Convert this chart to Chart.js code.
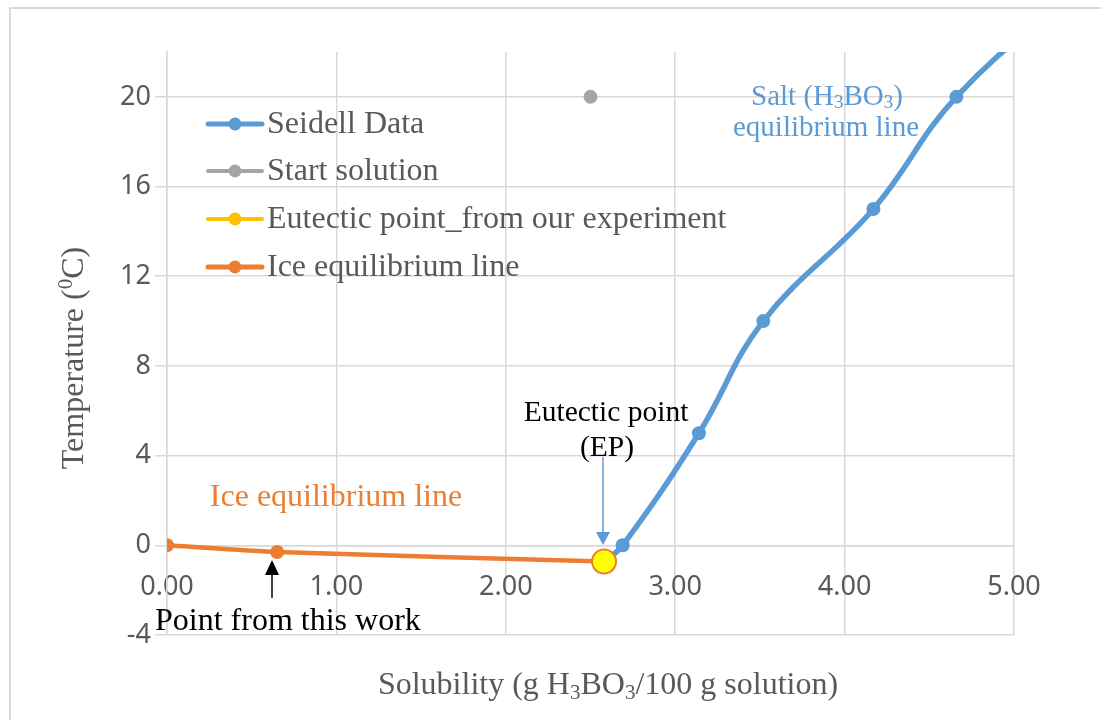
<!DOCTYPE html>
<html>
<head>
<meta charset="utf-8">
<script src="https://cdn.jsdelivr.net/npm/chart.js@4"></script>
<style>
  html, body { margin: 0; padding: 0; background: #fff; }
  #wrap { width: 1101px; height: 720px; position: relative; }
</style>
</head>
<body>
<div id="wrap"><canvas id="chart" width="1101" height="720"></canvas></div>
<script>
// 数据 (g H3BO3/100 g solution, °C)
const seidellX = [2.58, 2.69, 3.14, 3.52, 4.17, 4.66, 5.40];
const seidellY = [-0.72, 0, 5, 10, 15, 20, 25];
const startX = [2.50];
const startY = [20];
const eutecticX = [2.58];
const eutecticY = [-0.72];
const iceX = [0.00, 0.65, 2.58];
const iceY = [0.00, -0.30, -0.72];

const xTicks = [0, 1, 2, 3, 4, 5];
const yTicks = [-4, 0, 4, 8, 12, 16, 20];

const seriesNames = ['Seidell Data', 'Start solution', 'Eutectic point_from our experiment', 'Ice equilibrium line'];

const BLUE = '#5B9BD5';
const GRAY = '#A5A5A5';
const GOLD = '#FFC000';
const ORANGE = '#ED7D31';
const TEXT_GRAY = '#595959';
const GRID = '#d9d9d9';
const SERIF = '"Liberation Serif", "Times New Roman", serif';
const SANS = '"Noto Sans", "Open Sans", sans-serif';

function toPoints(xs, ys) {
    return xs.map((x, i) => ({ x: x, y: ys[i] }));
}

// 带上下标的文字
function drawRich(ctx, parts, x, y, size, color, align) {
    ctx.save();
    ctx.fillStyle = color;
    ctx.textBaseline = 'middle';
    ctx.textAlign = 'left';
    const small = Math.round(size * 0.65);
    let total = 0;
    parts.forEach(p => {
        ctx.font = (p.sub || p.sup ? small : size) + 'px ' + SERIF;
        total += ctx.measureText(p.t).width;
    });
    let cx = align === 'center' ? x - total / 2 : x;
    parts.forEach(p => {
        ctx.font = (p.sub || p.sup ? small : size) + 'px ' + SERIF;
        let dy = 0;
        if (p.sub) dy = size * 0.22;
        if (p.sup) dy = -size * 0.28;
        ctx.fillText(p.t, cx, y + dy);
        cx += ctx.measureText(p.t).width;
    });
    ctx.restore();
}

function drawArrow(ctx, x, y1, y2, color, width, headW, headL) {
    // y1: 尾部, y2: 箭头尖
    const dir = y2 > y1 ? 1 : -1;
    ctx.save();
    ctx.strokeStyle = color;
    ctx.fillStyle = color;
    ctx.lineWidth = width;
    ctx.beginPath();
    ctx.moveTo(x, y1);
    ctx.lineTo(x, y2 - dir * headL);
    ctx.stroke();
    ctx.beginPath();
    ctx.moveTo(x, y2);
    ctx.lineTo(x - headW / 2, y2 - dir * headL);
    ctx.lineTo(x + headW / 2, y2 - dir * headL);
    ctx.closePath();
    ctx.fill();
    ctx.restore();
}

// 外框、图例、注释
const decorPlugin = {
    id: 'decor',
    beforeDraw(chart) {
        const ctx = chart.ctx;
        ctx.save();
        ctx.strokeStyle = GRID;
        ctx.lineWidth = 2;
        ctx.strokeRect(10, 8, 1200, 800);
        ctx.restore();
    },
    afterDraw(chart) {
        const ctx = chart.ctx;

        // 图例
        const legendColors = [BLUE, GRAY, GOLD, ORANGE];
        const legendWidths = [5, 4, 4, 5];
        const rowY = [124, 171, 219, 267];
        seriesNames.forEach((name, i) => {
            const y = rowY[i];
            ctx.save();
            ctx.strokeStyle = legendColors[i];
            ctx.lineWidth = legendWidths[i];
            ctx.lineCap = 'round';
            ctx.beginPath();
            ctx.moveTo(208, y);
            ctx.lineTo(262, y);
            ctx.stroke();
            ctx.fillStyle = legendColors[i];
            ctx.beginPath();
            ctx.arc(235, y, 6.5, 0, Math.PI * 2);
            ctx.fill();
            ctx.restore();
            drawRich(ctx, [{ t: name }], 267, y + 1, 32, TEXT_GRAY, 'left');
        });

        // 坐标轴标题
        drawRich(ctx, [{ t: 'Solubility (g H' }, { t: '3', sub: true }, { t: 'BO' }, { t: '3', sub: true }, { t: '/100 g solution)' }],
            608, 686, 32, TEXT_GRAY, 'center');
        ctx.save();
        ctx.translate(75, 358);
        ctx.rotate(-Math.PI / 2);
        drawRich(ctx, [{ t: 'Temperature (' }, { t: '0', sup: true }, { t: 'C)' }], 0, 0, 32, TEXT_GRAY, 'center');
        ctx.restore();

        // 注释
        drawRich(ctx, [{ t: 'Salt (H' }, { t: '3', sub: true }, { t: 'BO' }, { t: '3', sub: true }, { t: ')' }], 827, 97, 29, BLUE, 'center');
        drawRich(ctx, [{ t: 'equilibrium line' }], 826, 128, 29, BLUE, 'center');
        drawRich(ctx, [{ t: 'Eutectic point' }], 606, 413, 29.5, '#000', 'center');
        drawRich(ctx, [{ t: '(EP)' }], 607, 448, 29.5, '#000', 'center');
        drawRich(ctx, [{ t: 'Ice equilibrium line' }], 336, 498, 32, ORANGE, 'center');
        drawRich(ctx, [{ t: 'Point from this work' }], 155, 622, 32, '#000', 'left');

        drawArrow(ctx, 603, 457, 545, BLUE, 1.5, 14, 13);
        drawArrow(ctx, 272, 598, 560, '#000', 1.5, 14, 15);
    }
};

const ctx = document.getElementById('chart').getContext('2d');
new Chart(ctx, {
    type: 'scatter',
    data: {
        datasets: [
            {
                label: seriesNames[0],
                data: toPoints(seidellX, seidellY),
                showLine: true,
                borderColor: BLUE,
                backgroundColor: BLUE,
                borderWidth: 5.5,
                tension: 0.4,
                pointRadius: seidellX.map((x, i) => i === 0 ? 0 : 7),
                pointBorderWidth: 0,
                order: 3
            },
            {
                label: seriesNames[1],
                data: toPoints(startX, startY),
                borderColor: GRAY,
                backgroundColor: GRAY,
                pointRadius: 7,
                pointBorderWidth: 0,
                order: 2
            },
            {
                label: seriesNames[2],
                data: toPoints(eutecticX, eutecticY),
                borderColor: ORANGE,
                backgroundColor: '#FFFF00',
                pointRadius: 12,
                pointBorderWidth: 2,
                order: 0
            },
            {
                label: seriesNames[3],
                data: toPoints(iceX, iceY),
                showLine: true,
                borderColor: ORANGE,
                backgroundColor: ORANGE,
                borderWidth: 4.5,
                tension: 0.2,
                pointRadius: iceX.map((x, i) => i === iceX.length - 1 ? 0 : 7),
                pointBorderWidth: 0,
                order: 1
            }
        ]
    },
    options: {
        responsive: false,
        animation: false,
        layout: { padding: { left: 0, right: 87, top: 52, bottom: 85 } },
        plugins: {
            legend: { display: false },
            tooltip: { enabled: false }
        },
        scales: {
            x: {
                type: 'linear',
                min: 0,
                max: 5,
                position: { y: 0 },
                afterBuildTicks: scale => { scale.ticks = xTicks.map(v => ({ value: v })); },
                ticks: {
                    callback: v => v.toFixed(2),
                    font: { family: SANS, size: 27 },
                    color: TEXT_GRAY,
                    padding: 26,
                    maxRotation: 0
                },
                grid: { color: GRID, lineWidth: 1.5, drawTicks: false },
                border: { color: GRID, width: 1.5 }
            },
            y: {
                type: 'linear',
                min: -4,
                max: 22,
                afterBuildTicks: scale => { scale.ticks = yTicks.map(v => ({ value: v })); },
                afterFit: scale => { scale.width = 167; },
                ticks: {
                    font: { family: SANS, size: 27 },
                    color: TEXT_GRAY,
                    padding: 4
                },
                grid: { color: GRID, lineWidth: 1.5, tickLength: 12 },
                border: { color: GRID, width: 1.5 }
            }
        }
    },
    plugins: [decorPlugin]
});
</script>
</body>
</html>
